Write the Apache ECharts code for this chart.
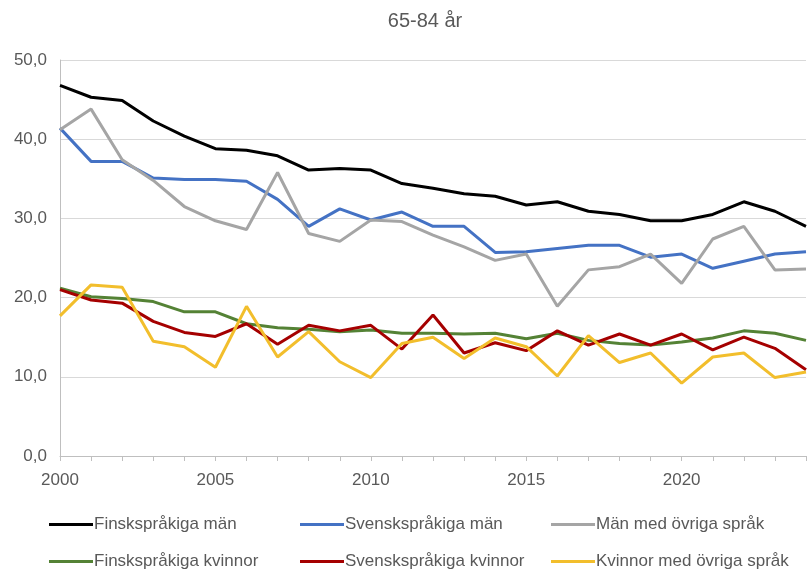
<!DOCTYPE html>
<html>
<head>
<meta charset="utf-8">
<script src="https://cdn.jsdelivr.net/npm/echarts@6/dist/echarts.min.js"></script>
<style>
  html, body { margin: 0; padding: 0; background: #fff; }
  #chart { width: 808px; height: 571px; }
</style>
</head>
<body>
<div id="chart"></div>
<script>
  const years = [];
  for (let y = 2000; y <= 2024; y++) years.push(String(y));

  const finskMan = [46.8, 45.3, 44.9, 42.3, 40.4, 38.8, 38.6, 37.9, 36.1, 36.3, 36.1, 34.4, 33.8,
    33.1, 32.8, 31.7, 32.1, 30.9, 30.5, 29.7, 29.7, 30.5, 32.1, 30.9, 29.0];
  const svenskMan = [41.4, 37.2, 37.2, 35.1, 34.9, 34.9, 34.7, 32.4, 29.0, 31.2, 29.8, 30.8, 29.0,
    29.0, 25.7, 25.8, 26.2, 26.6, 26.6, 25.1, 25.5, 23.7, 24.6, 25.5, 25.8];
  const ovrigaMan = [41.2, 43.8, 37.4, 34.8, 31.5, 29.7, 28.6, 35.8, 28.1, 27.1, 29.8, 29.6, 27.9,
    26.4, 24.7, 25.5, 18.9, 23.5, 23.9, 25.5, 21.8, 27.4, 29.0, 23.5, 23.6];
  const finskKvinnor = [21.2, 20.1, 19.9, 19.5, 18.2, 18.2, 16.7, 16.2, 16.0, 15.7, 15.9, 15.5, 15.5,
    15.4, 15.5, 14.8, 15.5, 14.6, 14.2, 14.0, 14.4, 14.9, 15.8, 15.5, 14.6];
  const svenskKvinnor = [21.0, 19.7, 19.3, 17.0, 15.6, 15.1, 16.7, 14.1, 16.5, 15.8, 16.5, 13.5, 17.8,
    13.0, 14.3, 13.3, 15.8, 14.0, 15.4, 14.0, 15.4, 13.4, 15.0, 13.6, 10.9];
  const ovrigaKvinnor = [17.7, 21.6, 21.3, 14.5, 13.8, 11.2, 18.9, 12.5, 15.7, 11.9, 9.9, 14.2, 15.0,
    12.3, 14.9, 13.8, 10.1, 15.2, 11.8, 13.0, 9.2, 12.5, 13.0, 9.9, 10.6];

  const seriesDefs = [
    { name: 'Finskspråkiga män', data: finskMan, color: '#000000', left: 49, top: 516 },
    { name: 'Svenskspråkiga män', data: svenskMan, color: '#4472C4', left: 300, top: 516 },
    { name: 'Män med övriga språk', data: ovrigaMan, color: '#A5A5A5', left: 551, top: 516 },
    { name: 'Finskspråkiga kvinnor', data: finskKvinnor, color: '#548235', left: 49, top: 553 },
    { name: 'Svenskspråkiga kvinnor', data: svenskKvinnor, color: '#A50000', left: 300, top: 553 },
    { name: 'Kvinnor med övriga språk', data: ovrigaKvinnor, color: '#F2BE2C', left: 551, top: 553 }
  ];

  const textColor = '#595959';
  const font = 'Liberation Sans';

  let chart = echarts.init(document.getElementById('chart'), null, { renderer: 'canvas' });
  let option = {
    backgroundColor: '#ffffff',
    animation: false,
    title: {
      text: '65-84 år',
      left: 420,
      top: 6,
      textAlign: 'center',
      textStyle: { color: textColor, fontFamily: font, fontSize: 20, fontWeight: 'normal' }
    },
    legend: seriesDefs.map(s => ({
      data: [s.name],
      left: s.left,
      top: s.top,
      icon: 'rect',
      itemWidth: 44,
      itemHeight: 3,
      itemGap: 0,
      padding: 0,
      textStyle: { color: textColor, fontFamily: font, fontSize: 17, padding: [0, 0, 0, -4] }
    })),
    grid: { left: 60, right: 2, top: 60, bottom: 115, containLabel: false },
    xAxis: {
      type: 'category',
      data: years,
      boundaryGap: false,
      axisLine: { lineStyle: { color: '#BFBFBF', width: 1 } },
      axisTick: { show: true, interval: 0, length: 5, lineStyle: { color: '#BFBFBF' } },
      axisLabel: { interval: 4, color: textColor, fontFamily: font, fontSize: 17, margin: 16 },
      splitLine: { show: false }
    },
    yAxis: {
      type: 'value',
      min: 0,
      max: 50,
      interval: 10,
      axisLine: { show: true, lineStyle: { color: '#BFBFBF' } },
      axisTick: { show: false },
      axisLabel: {
        color: textColor, fontFamily: font, fontSize: 17, margin: 13,
        formatter: v => v.toFixed(1).replace('.', ',')
      },
      splitLine: { lineStyle: { color: '#D9D9D9', width: 1 } }
    },
    series: seriesDefs.map(s => ({
      name: s.name,
      type: 'line',
      data: s.data,
      symbol: 'none',
      color: s.color,
      lineStyle: { color: s.color, width: 3 }
    }))
  };
  chart.setOption(option);
</script>
</body>
</html>
